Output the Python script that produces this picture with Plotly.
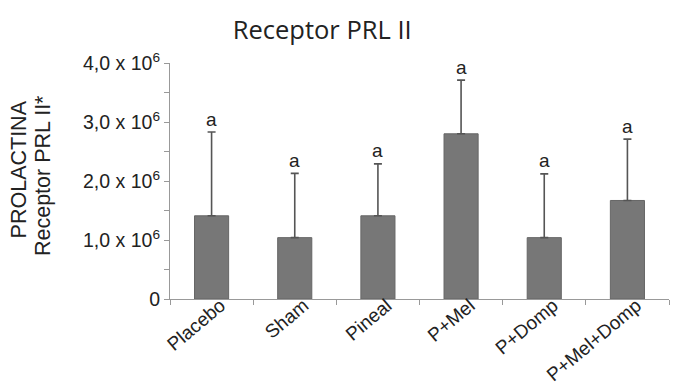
import plotly.graph_objects as go

categories = ["Placebo", "Sham", "Pineal", "P+Mel", "P+Domp", "P+Mel+Domp"]
means = [1.41e6, 1.04e6, 1.41e6, 2.80e6, 1.04e6, 1.67e6]
upper = [2.83e6, 2.13e6, 2.29e6, 3.71e6, 2.12e6, 2.71e6]
letters = ["a", "a", "a", "a", "a", "a"]
tick_vals = [0, 1.0e6, 2.0e6, 3.0e6, 4.0e6]
tick_text = ["0", "1,0 x 10<sup>6</sup>", "2,0 x 10<sup>6</sup>",
             "3,0 x 10<sup>6</sup>", "4,0 x 10<sup>6</sup>"]
y_title_lines = ["PROLACTINA", "Receptor PRL II*"]

err_plus = [u - m for u, m in zip(upper, means)]
FONT = "Liberation Sans, Arial"

fig = go.Figure()
fig.add_trace(go.Bar(
    x=categories, y=means, width=0.41,
    marker=dict(color="#777777", line=dict(color="#666666", width=1)),
    error_y=dict(type="data", symmetric=False, array=err_plus,
                 arrayminus=[0] * len(means), color="#555555",
                 thickness=1.6, width=4),
    showlegend=False,
))

for c, u, t in zip(categories, upper, letters):
    fig.add_annotation(x=c, y=u, text=t, showarrow=False, yshift=13,
                       yanchor="middle",
                       font=dict(family=FONT, size=19, color="#222222"))

# y-axis title as two rotated lines
for xp, yp, txt in [(-0.3036, 0.547, y_title_lines[0]), (-0.2545, 0.521, y_title_lines[1])]:
    fig.add_annotation(xref="paper", yref="paper", x=xp, y=yp, text=txt,
                       textangle=-90, showarrow=False, xanchor="center", yanchor="middle",
                       font=dict(family=FONT, size=21.5, color="#222222"))

fig.update_layout(
    width=670, height=380,
    margin=dict(l=162, r=9, t=55, b=89),
    plot_bgcolor="white", paper_bgcolor="white",
    title=dict(text="Receptor PRL II", x=0.469, xanchor="center", y=0.942, yanchor="middle",
               font=dict(family="Open Sans", size=25.5, color="#222222")),
    font=dict(family=FONT, color="#222222"),
)
fig.update_xaxes(
    automargin=False,
    showline=True, linecolor="#999999", linewidth=1.2,
    ticks="outside", tickson="boundaries", ticklen=5, tickcolor="#999999",
    tickangle=-40, tickfont=dict(size=19, family=FONT, color="#222222"),
    ticklabelstandoff=-13, ticklabelshift=9,
    showgrid=False,
)
fig.update_yaxes(
    automargin=False,
    range=[0, 4.0e6], tickvals=tick_vals, ticktext=tick_text,
    showline=True, linecolor="#999999", linewidth=1.2,
    ticks="outside", ticklen=5, tickcolor="#999999",
    minor=dict(tickvals=[0.5e6, 1.5e6, 2.5e6, 3.5e6], ticks="outside", ticklen=5, tickcolor="#999999"),
    tickfont=dict(size=19.5, family=FONT, color="#222222"),
    showgrid=False, zeroline=False,
)

fig.write_html("out.html")
